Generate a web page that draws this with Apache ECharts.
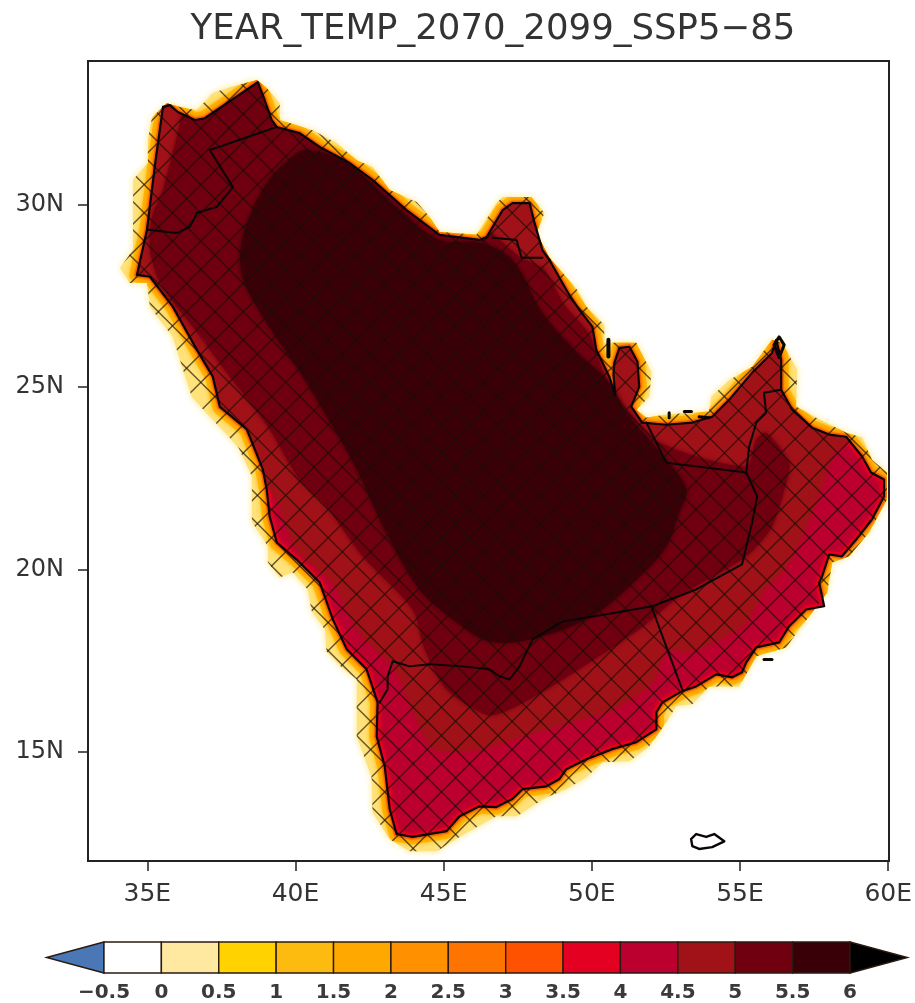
<!DOCTYPE html>
<html><head><meta charset="utf-8">
<style>html,body{margin:0;padding:0;background:#fff}#c{width:915px;height:1003px;filter:blur(0.55px)}</style>
<script src="https://cdn.jsdelivr.net/npm/echarts@6/dist/echarts.min.js"></script>
</head><body><div id="c"></div>
<script>
const titleText = 'YEAR_TEMP_2070_2099_SSP5\u221285';
const lonTicks = [35,40,45,50,55,60];
const latTicks = [15,20,25,30];
const levels = [-1,-0.5,0,0.5,1,1.5,2,2.5,3,3.5,4,4.5,5,5.5,6,6.5];
const levelColors = ['#4a78b6','#ffffff','#ffe8a0','#ffd200','#fdbb10','#ffa800','#ff9000','#ff7400','#ff5200','#e30020','#bb0030','#a01218','#700010','#3a0008','#000000'];
const coast = [[34.65,28.08],[34.99,29.32],[35.26,31.10],[35.53,32.69],[35.76,32.74],[36.03,32.55],[36.61,32.33],[36.94,32.38],[38.73,33.37],[38.96,32.88],[39.20,32.33],[39.37,32.14],[40.14,31.97],[40.82,31.59],[41.83,31.15],[42.60,30.69],[43.75,29.86],[44.86,29.18],[46.21,29.04],[46.45,29.12],[46.99,29.86],[47.32,30.05],[47.90,30.05],[48.06,29.53],[48.33,28.77],[48.57,28.49],[49.24,27.53],[49.58,27.12],[50.02,26.66],[50.15,26.03],[50.59,25.29],[50.79,24.78],[50.73,25.34],[50.76,25.67],[50.93,26.08],[51.27,26.11],[51.54,25.70],[51.60,25.01],[51.33,24.47],[51.70,24.03],[52.51,23.97],[53.39,24.03],[54.06,24.19],[54.64,24.66],[55.41,25.40],[56.08,25.94],[56.22,26.30],[56.39,25.75],[56.39,24.93],[56.76,24.38],[57.43,23.89],[58.01,23.70],[58.58,23.64],[59.12,23.10],[59.42,22.66],[59.86,22.47],[59.86,22.00],[59.45,21.37],[58.92,20.82],[58.44,20.36],[58.01,20.41],[57.77,19.81],[57.67,19.64],[57.84,18.99],[57.23,18.90],[56.66,18.44],[56.32,18.00],[55.55,17.86],[55.21,17.45],[55.07,17.18],[54.74,17.04],[54.20,17.12],[53.52,16.79],[53.05,16.66],[52.38,16.35],[52.18,16.08],[52.18,15.61],[51.50,15.26],[50.69,15.07],[49.82,14.79],[49.14,14.52],[48.91,14.25],[48.47,14.05],[47.66,13.97],[47.32,13.70],[46.78,13.48],[46.21,13.50],[45.54,13.23],[45.10,12.82],[43.95,12.66],[43.41,12.74],[43.18,13.42],[43.01,14.60],[42.74,15.42],[42.77,16.35],[42.40,17.26],[41.73,17.81],[41.26,18.63],[40.82,19.64],[40.04,20.27],[39.37,20.74],[39.13,21.45],[39.03,22.19],[38.90,22.74],[38.36,23.84],[37.45,24.46],[37.21,25.29],[36.67,26.03],[35.86,27.21],[35.09,28.03],[34.65,28.08]];
const fringe = [[34.08,28.27],[34.52,28.77],[34.52,29.23],[34.52,29.86],[34.52,30.69],[35.02,31.15],[35.02,31.78],[35.16,32.41],[35.66,32.79],[36.10,32.69],[36.67,32.60],[37.21,33.07],[37.79,33.23],[38.70,33.43],[39.03,33.21],[39.47,32.79],[39.47,32.33],[40.04,32.19],[40.58,32.05],[41.39,31.70],[42.07,31.23],[42.60,31.04],[43.18,30.41],[44.09,30.08],[44.53,29.67],[44.86,29.26],[46.11,29.18],[46.78,30.05],[46.99,30.22],[47.96,30.22],[48.40,29.78],[48.13,29.23],[48.57,28.55],[49.01,28.14],[49.51,27.67],[49.82,27.21],[50.42,26.71],[50.42,26.22],[51.03,26.22],[51.50,26.22],[52.01,25.42],[51.94,24.74],[51.50,24.38],[51.84,24.16],[52.51,24.25],[53.96,24.33],[54.03,24.74],[54.64,25.20],[55.41,25.56],[56.08,26.30],[56.42,26.22],[56.93,25.48],[56.89,24.47],[57.57,24.16],[58.58,23.75],[59.12,23.62],[59.45,23.01],[59.96,22.66],[59.96,21.92],[59.35,21.01],[58.68,20.36],[58.11,20.19],[57.94,19.37],[57.33,18.71],[56.99,18.35],[56.56,17.86],[55.55,17.62],[54.97,16.79],[53.96,16.79],[53.39,16.30],[52.85,16.25],[52.51,15.81],[51.94,15.15],[51.27,14.74],[50.36,14.71],[49.82,14.30],[49.14,13.97],[48.47,13.75],[47.46,13.23],[46.78,13.23],[45.70,12.74],[44.76,12.27],[43.85,12.27],[43.18,12.60],[42.60,13.34],[42.57,14.30],[42.07,15.42],[42.07,16.25],[42.07,16.98],[41.56,17.31],[41.05,17.75],[40.99,18.35],[40.55,18.85],[40.41,19.45],[39.91,19.92],[39.47,19.78],[39.07,20.19],[39.07,20.63],[38.53,21.31],[38.53,22.11],[38.53,22.55],[38.22,23.10],[38.06,23.37],[37.52,23.84],[37.04,24.25],[36.50,24.74],[36.10,25.75],[35.86,26.38],[35.09,27.21],[34.99,27.86],[34.42,27.86]];
const band45 = [[39.23,22.11],[40.04,20.55],[41.26,19.64],[42.07,18.35],[43.18,17.45],[43.51,17.07],[43.95,16.16],[44.69,15.07],[46.21,15.07],[47.32,15.34],[48.47,15.62],[49.58,15.89],[50.69,16.16],[52.04,16.90],[52.51,17.81],[53.19,17.72],[54.30,18.08],[55.21,18.55],[55.75,19.37],[56.56,20.08],[57.23,21.18],[57.67,22.11],[58.11,23.10],[58.58,23.48],[59.02,24.11],[58.34,27.40],[46.88,32.05],[40.14,33.97],[33.40,33.70],[33.40,27.40],[38.12,22.74]];
const band50 = [[36.3,33.5],[36.2,32.6],[35.53,30.41],[35.16,29.67],[35.09,28.77],[35.43,27.86],[36.61,26.58],[37.68,25.40],[39.03,23.97],[40.14,22.47],[40.99,21.78],[42.27,20.36],[43.95,18.91],[44.36,17.82],[45.10,16.71],[46.55,16.00],[47.90,16.44],[49.58,17.27],[51.60,18.36],[52.95,19.26],[55.21,20.36],[56.08,21.18],[56.59,22.47],[56.66,22.93],[55.88,23.75],[55.55,23.56],[55.21,22.82],[52.28,23.48],[50.99,24.60],[50.42,25.34],[49.92,26.44],[49.07,27.26],[48.40,28.22],[47.56,28.58],[46.78,29.12],[46.21,29.45],[44.86,29.59],[41.83,31.78],[40.14,32.33],[39.6,33.6]];
const band55 = [[39.91,31.32],[40.38,31.51],[41.73,31.15],[43.51,29.86],[44.86,29.04],[46.21,28.96],[47.32,28.49],[48.33,27.04],[49.41,26.03],[50.59,25.12],[51.16,24.30],[52.51,23.01],[53.19,22.19],[52.95,21.56],[52.51,20.63],[51.50,19.72],[49.92,18.68],[47.90,18.08],[46.55,18.03],[45.54,18.49],[44.19,19.45],[43.01,21.10],[42.07,22.74],[41.26,23.92],[40.04,25.56],[39.03,26.77],[38.22,28.03],[38.22,29.12],[39.03,30.60]];
const borderJordan = [[35.02,29.32],[36.0,29.23],[36.44,29.40],[36.67,29.78],[37.35,29.95],[37.89,30.49],[37.11,31.51],[39.37,32.14]];
const borderKuwait = [[46.65,29.10],[47.46,29.04],[47.63,28.55],[48.33,28.55]];
const borderUAE = [[51.84,24.03],[52.51,22.93],[55.21,22.66]];
const borderUAEOman = [[55.21,22.66],[55.31,23.37],[55.55,24.03],[55.88,24.30],[55.81,24.85],[56.39,24.93]];
const borderSouth = [[55.21,22.66],[55.58,22.0],[55.41,21.29],[55.07,20.14],[53.52,19.45],[52.04,18.99],[50.49,18.77],[49.01,18.57],[48.0,18.08],[47.56,17.34],[47.22,16.98],[46.88,17.07],[46.55,17.26],[45.64,17.34],[44.53,17.40],[43.85,17.34],[43.28,17.48],[43.11,17.07],[43.11,16.71],[42.84,16.35]];
const borderYemenOman = [[52.01,18.99],[52.51,17.89],[53.05,16.71]];
const socotra = [[53.35,12.60],[53.52,12.74],[53.86,12.66],[54.13,12.74],[54.47,12.54],[54.06,12.38],[53.62,12.33],[53.39,12.41],[53.35,12.60]];
const musandam = [[56.15,26.16],[56.32,26.38],[56.49,26.16],[56.32,25.81],[56.15,26.16]];
const bahrain = [[50.56,26.30],[50.56,25.84]];
const islets = [[[52.61,24.30],[52.61,24.16]],[[53.12,24.33],[53.36,24.33]],[[53.62,24.19],[53.96,24.16]],[[55.81,17.53],[56.08,17.53]]];
const hatchNode = [42.06,16.22];
const hatchStepLon = 0.955, hatchStepLat = 0.775;

const ptsOf = (api, list) => list.map(p => api.coord(p));
function area(list, style, clip, z, smooth) {
  return {
    type:'custom', coordinateSystem:'cartesian2d', xAxisIndex:0, yAxisIndex:0, silent:true, clip:true, z:z,
    data:[list[0]],
    renderItem:(p, api) => {
      const el = {type:'polygon', shape:{points:ptsOf(api,list), smooth:smooth||0}, style:style};
      if (clip) el.clipPath = {type:'polygon', shape:{points:ptsOf(api,clip)}};
      return el;
    }
  };
}
function line(list, width, z) {
  return {type:'line', xAxisIndex:0, yAxisIndex:0, data:list, showSymbol:false, silent:true, z:z,
    lineStyle:{color:'#0a0506', width:width, join:'round', cap:'round'}, itemStyle:{opacity:0}};
}
const hatch = {
  type:'custom', coordinateSystem:'cartesian2d', xAxisIndex:0, yAxisIndex:0, silent:true, clip:true, z:8,
  data:[hatchNode],
  renderItem:(p, api) => {
    const kids = [];
    const slope = hatchStepLon/hatchStepLat;
    for (let i=-40;i<=40;i++) {
      [-1,1].forEach(sgn => {
        const lon0 = hatchNode[0]+i*hatchStepLon;
        const a = api.coord([lon0+sgn*(12-hatchNode[1])*slope,12]);
        const b = api.coord([lon0+sgn*(34-hatchNode[1])*slope,34]);
        kids.push({type:'line', shape:{x1:a[0],y1:a[1],x2:b[0],y2:b[1]}, style:{stroke:'rgba(25,15,5,0.68)', lineWidth:1.4}});
      });
    }
    return {type:'group', children:kids, clipPath:{type:'polygon', shape:{points:ptsOf(api,fringe)}}};
  }
};
const colorbar = {
  type:'custom', coordinateSystem:'cartesian2d', xAxisIndex:1, yAxisIndex:1, silent:true, z:5, clip:false,
  data:levelColors.map((c,i)=>[levels[i],levels[i+1]]),
  renderItem:(p, api) => {
    const i = p.dataIndex, l = api.value(0), r = api.value(1);
    const c = levelColors[i];
    const st = {fill:c, stroke:'#2a1a10', lineWidth:1.4};
    let pts;
    if (i===0) pts = [api.coord([l,0.5]),api.coord([r,1]),api.coord([r,0])];
    else if (i===levelColors.length-1) pts = [api.coord([l,1]),api.coord([r,0.5]),api.coord([l,0])];
    else pts = [api.coord([l,1]),api.coord([r,1]),api.coord([r,0]),api.coord([l,0])];
    return {type:'polygon', shape:{points:pts}, style:st};
  }
};

const chart = echarts.init(document.getElementById('c'), null, {renderer:'canvas'});
chart.setOption({
  animation:false, backgroundColor:'#fff',
  title:{text:titleText, left:488, top:7, textAlign:'center',
    textStyle:{fontFamily:'DejaVu Sans', fontSize:35.5, fontWeight:'normal', color:'#333'}},
  grid:[{left:88,top:61,width:801,height:800,show:false},{left:46.6,top:942,width:860.8,height:33,show:false}],
  xAxis:[
    {type:'value',gridIndex:0,min:33,max:60,position:'bottom',splitLine:{show:false},
     axisLine:{show:true,lineStyle:{color:'#222',width:2}},
     axisTick:{show:true,length:10,customValues:lonTicks,lineStyle:{color:'#222',width:1.5}},
     axisLabel:{customValues:lonTicks,margin:21,hideOverlap:false,showMinLabel:true,showMaxLabel:true,formatter:v=>v+'E',fontFamily:'DejaVu Sans',fontSize:25,color:'#333'}},
    {type:'value',gridIndex:1,min:-1,max:6.5,interval:0.5,splitLine:{show:false},
     axisLine:{show:false},axisTick:{show:false},
     axisLabel:{customValues:levels.slice(1,-1),margin:10,formatter:v=>String(v).replace('-','\u2212'),fontFamily:'DejaVu Sans',fontWeight:'bold',fontSize:20,color:'#3a3a3a'}}
  ],
  yAxis:[
    {type:'value',gridIndex:0,min:12,max:33.95,splitLine:{show:false},
     axisLine:{show:true,lineStyle:{color:'#222',width:2}},
     axisTick:{show:true,length:10,customValues:latTicks,lineStyle:{color:'#222',width:1.5}},
     axisLabel:{customValues:latTicks,margin:24,padding:[6,0,0,0],formatter:v=>v+'N',fontFamily:'DejaVu Sans',fontSize:24,color:'#333'}},
    {type:'value',gridIndex:1,min:0,max:1,show:false}
  ],
  graphic:[{type:'rect',z:20,silent:true,shape:{x:88,y:61,width:801,height:800},style:{fill:'none',stroke:'#222',lineWidth:2}}],
  series:[
    area(fringe,{fill:'#ffe27a',shadowBlur:7,shadowColor:'#ffe88a'},null,1),
    area(coast,{fill:'none',stroke:'#ffb400',lineWidth:15,lineJoin:'round',shadowBlur:5,shadowColor:'#ffb400'},fringe,2),
    area(coast,{fill:'none',stroke:'#f86000',lineWidth:5,lineJoin:'round',shadowBlur:4,shadowColor:'#f86000'},fringe,2),
    area(coast,{fill:levelColors[10]},null,3),
    area(coast,{fill:'none',stroke:levelColors[9],lineWidth:7,shadowBlur:4,shadowColor:levelColors[9]},coast,3),
    area(band45,{fill:levelColors[11],shadowBlur:5,shadowColor:levelColors[11]},coast,4,0.25),
    area(band50,{fill:levelColors[12],shadowBlur:5,shadowColor:levelColors[12]},coast,5,0.25),
    area(band55,{fill:levelColors[13],shadowBlur:5,shadowColor:levelColors[13]},coast,6,0.35),
    hatch,
    line(coast,2.2,10),line(borderJordan,2,10),line(borderKuwait,2,10),line(borderUAE,2,10),line(borderUAEOman,2,10),line(borderSouth,2,10),line(borderYemenOman,2,10),
    line(socotra,2.4,10),line(musandam,3,10),line(bahrain,4,10),
    ...islets.map(s=>line(s,3,10)),
    colorbar
  ]
});
</script></body></html>
